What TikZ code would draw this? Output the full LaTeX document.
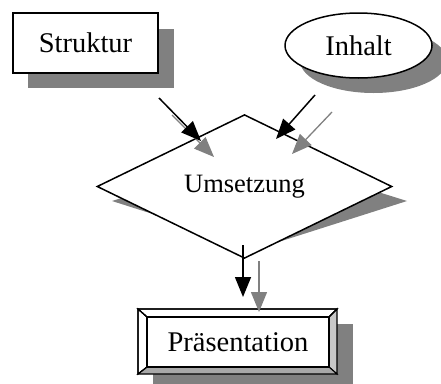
\documentclass[tikz,border=0pt]{standalone}
\usepackage{fontspec}
\setmainfont{Liberation Serif}
\usetikzlibrary{shapes.geometric,arrows.meta}
\definecolor{shade}{HTML}{808080}
\definecolor{bevelright}{HTML}{C8C8C8}
\definecolor{bevelbottom}{HTML}{A8A8A8}
\begin{document}
\begin{tikzpicture}[x=1pt,y=-1pt,
  shadowfill/.style={fill=shade,draw=none},
  outline/.style={draw=black,line width=1.5pt,fill=white},
  bevel/.style={draw=black,line width=1.1pt,line join=miter},
  lbl/.style={font=\fontsize{28.5}{30}\selectfont,inner sep=0pt},
  tipstyle/.style={-{Triangle[length=20pt,width=16pt]}},
  blackarrow/.style={tipstyle,draw=black,line width=1.5pt},
  grayarrow/.style={tipstyle,draw=shade,line width=1.3pt}]
\useasboundingbox (0,0) rectangle (441,383);
\begin{scope}
\clip (0,0) rectangle (441,383);
% shadows
\fill[shadowfill] (28,29) rectangle (174,88);
\fill[shadowfill] (373.5,60.5) ellipse [x radius=73.5pt, y radius=32.5pt];
\fill[shadowfill] (112,201) -- (259.5,155) -- (407,201) -- (259.5,248) -- cycle;
\fill[shadowfill] (153,324) rectangle (353,395);
\end{scope}
% nodes
\node[outline,rectangle,minimum width=145pt,minimum height=60pt,lbl] (struktur) at (85.5,43) {Struktur};
\node[outline,ellipse,minimum width=147pt,minimum height=65pt,lbl] (inhalt) at (358.5,45.5) {Inhalt};
\node[outline,diamond,minimum width=295pt,minimum height=93pt,inner sep=0pt,font=\fontsize{26.5}{28}\selectfont] (umsetzung) at (244.5,186.5) {Umsetzung};
% bevelled frame of Praesentation
\fill[white,bevel] (138,309) -- (337,309) -- (329,317) -- (147,317) -- cycle;
\fill[white,bevel] (138,309) -- (147,317) -- (147,367) -- (138,374) -- cycle;
\filldraw[fill=bevelright,bevel] (337,309) -- (337,374) -- (329,367) -- (329,317) -- cycle;
\filldraw[fill=bevelbottom,bevel] (138,374) -- (337,374) -- (329,367) -- (147,367) -- cycle;
\draw[bevel] (138,309) -- (337,309) -- (329,317) -- (147,317) -- cycle;
\draw[bevel] (138,309) -- (147,317) -- (147,367) -- (138,374) -- cycle;
\node[draw=black,line width=1.1pt,fill=white,rectangle,minimum width=182pt,minimum height=50pt,lbl] (praes) at (238,342) {Präsentation};
% connector endpoints
\coordinate (s1) at (159,98);  \coordinate (s2) at (201,141);
\coordinate (g1) at (172,115); \coordinate (g2) at (214,157);
\coordinate (i1) at (315,95);  \coordinate (i2) at (276,139);
\coordinate (h1) at (332,112); \coordinate (h2) at (292,154);
\coordinate (u1) at (243,245); \coordinate (u2) at (243,297);
\coordinate (v1) at (259,261); \coordinate (v2) at (259,312);
% arrows
\draw[grayarrow] (g1) -- (g2);
\draw[blackarrow] (s1) -- (s2);
\draw[grayarrow] (h1) -- (h2);
\draw[blackarrow] (i1) -- (i2);
\draw[grayarrow] (v1) -- (v2);
\draw[blackarrow] (u1) -- (u2);
\end{tikzpicture}
\end{document}
